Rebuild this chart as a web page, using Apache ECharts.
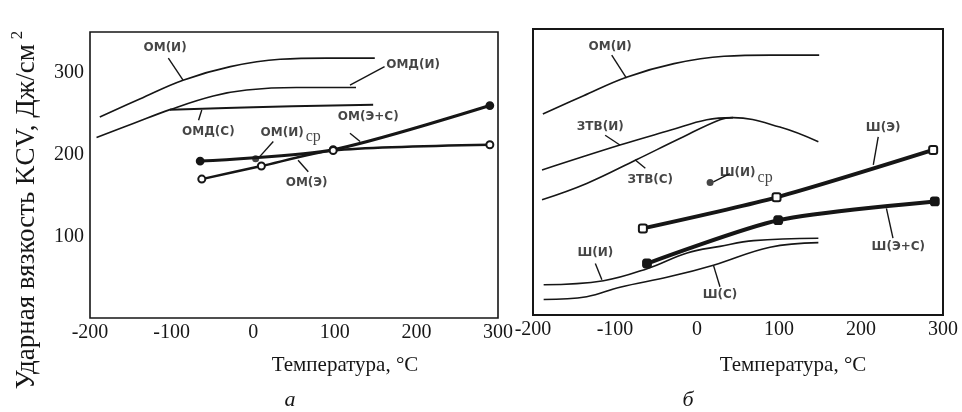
<!DOCTYPE html>
<html><head><meta charset="utf-8">
<script src="https://cdn.jsdelivr.net/npm/echarts@6/dist/echarts.min.js"></script>
<style>html,body{margin:0;padding:0;background:#fff}#c{width:962px;height:412px}</style>
</head><body><div id="c"></div><script>
// ---- axes ----
const xMin = -200, xMax = 300, xStep = 100;
const yMin = 0, yMax = 350, yStep = 50;
const yTickLabels = [100, 200, 300];

// ---- panel а ----
const omI_x  = [-188, -139, -86, -28, 33, 90, 149];
const omI_y  = [246, 268, 291, 307.6, 316.6, 318, 318];
const omdI_x = [-192, -147, -102, -49, -8, 53, 126];
const omdI_y = [221, 238, 255, 271.7, 279, 282, 282];
const omdS_x = [-102, 0, 147];
const omdS_y = [255, 258, 261];
const omES_x = [-65, 98, 290];
const omES_y = [192, 206, 260];
const omE_x  = [-63, 10, 98, 290];
const omE_y  = [170, 186, 205, 212];
const omIcp_x = [3];
const omIcp_y = [195];

// ---- panel б ----
const ztvI_x = [-189, -94, -33, 12, 44, 101, 148];
const ztvI_y = [177.5, 208, 226, 239, 241.5, 230, 212];
const ztvS_x = [-189, -134.5, -74, -21, 28, 44];
const ztvS_y = [141, 161, 190, 216, 239, 241.5];
const shI_x  = [-187, -114, -60, -12, 28, 69, 148];
const shI_y  = [37, 42, 57, 76, 84, 91, 94];
const shS_x  = [-187, -134.5, -94, -33, 20, 89, 148];
const shS_y  = [19, 22.4, 34, 47, 61, 83, 88.6];
const shE_x  = [-66, 97, 288];
const shE_y  = [106, 144, 202];
const shES_x = [-61, 99, 290];
const shES_y = [63, 116, 139];
const shIcp_x = [16];
const shIcp_y = [162];

// ---- annotations (data coordinates) ----
const labelsA = [
  {t: 'ОМ(И)', at: [-108, 330]},
  {t: 'ОМД(И)', at: [196, 310]},
  {t: 'ОМД(С)', at: [-55, 228]},
  {t: 'ОМ(И)', sub: 'ср', at: [46, 227]},
  {t: 'ОМ(Э+С)', at: [141, 246]},
  {t: 'ОМ(Э)', at: [65.5, 165]}
];
const leadersA = [
  [[-104, 318], [-86, 291]],
  [[161, 307.6], [118.6, 285]],
  [[-67, 242], [-63, 254.5]],
  [[24.6, 216], [8, 197.5]],
  [[118.6, 226], [131, 216]],
  [[67.5, 179], [55, 193]]
];
const labelsB = [
  {t: 'ОМ(И)', at: [-106, 328]},
  {t: 'ЗТВ(И)', at: [-118, 230]},
  {t: 'ЗТВ(С)', at: [-57, 165]},
  {t: 'Ш(И)', sub: 'ср', at: [60, 174]},
  {t: 'Ш(Э)', at: [227, 228.5]},
  {t: 'Ш(Э+С)', at: [245.5, 83.6]},
  {t: 'Ш(И)', at: [-124, 75.5]},
  {t: 'Ш(С)', at: [28, 24.5]}
];
const leadersB = [
  [[-104, 318], [-86, 290]],
  [[-112, 220], [-94, 208]],
  [[-63, 179.5], [-75.6, 190]],
  [[40, 173], [20, 163]],
  [[221, 218], [215, 183.6]],
  [[239, 94], [231, 130.6]],
  [[-124, 63], [-116, 43]],
  [[28, 34.6], [20, 61]]
];

const zip = (xs, ys) => xs.map((x, i) => [x, ys[i]]);
const INK = '#161616';
const serif = '"Liberation Serif", "DejaVu Serif", serif';
const sans = '"DejaVu Sans", "Liberation Sans", sans-serif';

function curve(name, xs, ys, gi, w) {
  return {type: 'line', name, xAxisIndex: gi, yAxisIndex: gi, data: zip(xs, ys),
    smooth: 0.4, symbol: 'none', lineStyle: {color: INK, width: w}, z: 3};
}
function marked(name, xs, ys, gi, w, sym, size) {
  return {type: 'line', name, xAxisIndex: gi, yAxisIndex: gi, data: zip(xs, ys),
    smooth: 0.25, symbol: sym, symbolSize: size, showAllSymbol: true,
    lineStyle: {color: INK, width: w},
    itemStyle: {color: INK, borderColor: INK, borderWidth: 1.8}, z: 4};
}
function point(name, xs, ys, gi) {
  return {type: 'scatter', name, xAxisIndex: gi, yAxisIndex: gi, data: zip(xs, ys),
    symbol: 'circle', symbolSize: 7, itemStyle: {color: INK}, z: 5};
}
function labels(list, gi) {
  return {type: 'scatter', xAxisIndex: gi, yAxisIndex: gi, symbolSize: 0, silent: true, z: 6,
    data: list.map(l => ({value: l.at, name: l.t, sub: l.sub || ''})),
    label: {show: true, position: 'inside', color: INK,
      formatter: p => p.data.sub ? '{m|' + p.data.name + '}{s|' + p.data.sub + '}' : '{m|' + p.data.name + '}',
      rich: {
        m: {fontFamily: sans, fontWeight: 'bold', fontSize: 12, color: INK},
        s: {fontFamily: serif, fontSize: 16, color: INK, padding: [9, 0, 0, 2]}
      }}};
}
function leaders(list, gi) {
  return {type: 'lines', coordinateSystem: 'cartesian2d', xAxisIndex: gi, yAxisIndex: gi, silent: true, z: 5,
    data: list.map(c => ({coords: c})), lineStyle: {color: INK, width: 1.4, opacity: 1}};
}

function xAx(gi) {
  return {type: 'value', gridIndex: gi, min: xMin, max: xMax, interval: xStep,
    axisLine: {show: false}, axisTick: {show: false}, splitLine: {show: false},
    axisLabel: {color: INK, fontFamily: serif, fontSize: 20, margin: 5,
      formatter: v => String(v)}};
}
function yAx(gi, showLabels) {
  return {type: 'value', gridIndex: gi, min: yMin, max: yMax, interval: yStep,
    axisLine: {show: false}, axisTick: {show: false}, splitLine: {show: false},
    axisLabel: {show: showLabels, color: INK, fontFamily: serif, fontSize: 20, margin: 6,
      formatter: v => yTickLabels.includes(v) ? String(v) : ''}};
}

const chart = echarts.init(document.getElementById('c'), null, {renderer: 'canvas'});
chart.setOption({
  backgroundColor: '#fff',
  animation: false,
  grid: [
    {left: 90, top: 32, width: 408, height: 286, show: true, borderColor: INK, borderWidth: 1.6, backgroundColor: 'transparent'},
    {left: 533, top: 29, width: 410, height: 286, show: true, borderColor: INK, borderWidth: 2, backgroundColor: 'transparent'}
  ],
  xAxis: [xAx(0), xAx(1)],
  yAxis: [yAx(0, true), yAx(1, false)],
  series: [
    curve('ОМ(И)', omI_x, omI_y, 0, 1.6),
    curve('ОМД(И)', omdI_x, omdI_y, 0, 1.6),
    curve('ОМД(С)', omdS_x, omdS_y, 0, 2),
    marked('ОМ(Э+С)', omES_x, omES_y, 0, 3, 'circle', 7),
    marked('ОМ(Э)', omE_x, omE_y, 0, 2.4, 'emptyCircle', 7),
    point('ОМ(И)ср', omIcp_x, omIcp_y, 0),
    labels(labelsA, 0),
    leaders(leadersA, 0),

    curve('ОМ(И)', omI_x, omI_y, 1, 1.6),
    curve('ЗТВ(И)', ztvI_x, ztvI_y, 1, 1.6),
    curve('ЗТВ(С)', ztvS_x, ztvS_y, 1, 1.6),
    curve('Ш(И)', shI_x, shI_y, 1, 1.6),
    curve('Ш(С)', shS_x, shS_y, 1, 1.6),
    marked('Ш(Э)', shE_x, shE_y, 1, 4, 'emptyRoundRect', 8),
    marked('Ш(Э+С)', shES_x, shES_y, 1, 4, 'roundRect', 8),
    point('Ш(И)ср', shIcp_x, shIcp_y, 1),
    labels(labelsB, 1),
    leaders(leadersB, 1)
  ],
  graphic: [
    {type: 'text', x: 27, y: 210, rotation: Math.PI / 2,
      style: {text: '{a|Ударная вязкость KCV, Дж/см}{s|2}', align: 'center', verticalAlign: 'middle',
        rich: {a: {fontFamily: serif, fontSize: 27, fill: INK},
               s: {fontFamily: serif, fontSize: 17, fill: INK, padding: [0, 0, 18, 5]}}}},
    {type: 'text', x: 345, y: 365, style: {text: 'Температура, °C', fontFamily: serif, fontSize: 21, fill: INK, align: 'center', verticalAlign: 'middle'}},
    {type: 'text', x: 793, y: 365, style: {text: 'Температура, °C', fontFamily: serif, fontSize: 21, fill: INK, align: 'center', verticalAlign: 'middle'}},
    {type: 'text', x: 290, y: 400, style: {text: 'а', fontFamily: serif, fontStyle: 'italic', fontSize: 22, fill: INK, align: 'center', verticalAlign: 'middle'}},
    {type: 'text', x: 688, y: 400, style: {text: 'б', fontFamily: serif, fontStyle: 'italic', fontSize: 22, fill: INK, align: 'center', verticalAlign: 'middle'}}
  ]
});
</script></body></html>
